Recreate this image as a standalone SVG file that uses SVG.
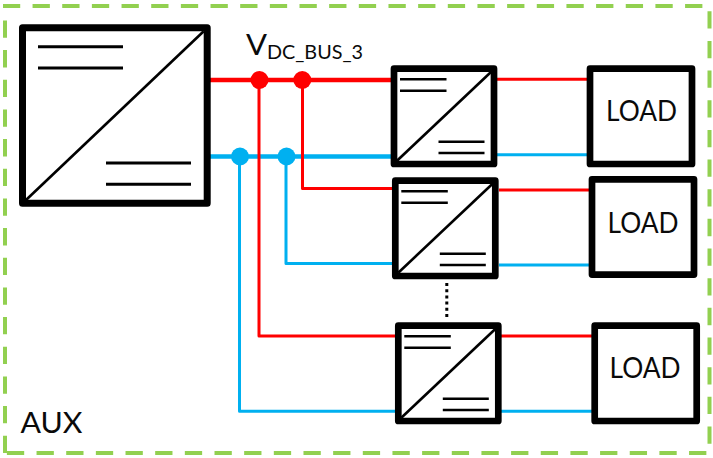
<svg xmlns="http://www.w3.org/2000/svg" width="713" height="458" viewBox="0 0 713 458">
<style>
text{font-family:Lato,"Liberation Sans",sans-serif;fill:#0a0a0a}
.box{fill:#fff;stroke:#000;stroke-width:6.7;stroke-linejoin:round}
.tick{fill:none;stroke:#000;stroke-width:2.6}
.diag{fill:none;stroke:#000;stroke-width:2.6}
.r{fill:none;stroke:#f00;stroke-width:3;stroke-linejoin:round}
.b{fill:none;stroke:#00b0f0;stroke-width:3;stroke-linejoin:round}
.lbl{font-size:29px}
</style>
<path id="aux-boundary" d="M5 453V6H709.500V453H5" fill="none" stroke="#92d050" stroke-width="4" stroke-dasharray="17.300 12.360"/>
<g id="connectors">
<path class="r" style="stroke-width:4.4" d="M210 80H392"/>
<path class="b" style="stroke-width:4.4" d="M210 156.500H392"/>
<path class="b" d="M239.500 156.500V411.300H396"/>
<path class="r" d="M259 80V336H396"/>
<path class="b" d="M286 156.500V263.500H393"/>
<path class="r" d="M302.500 80V188.500H393"/>
<path class="r" d="M497 79.300H588"/>
<path class="b" d="M497 154.700H588"/>
<path class="r" d="M499 190H590"/>
<path class="b" d="M499 265H590"/>
<path class="r" d="M501 336H592"/>
<path class="b" d="M501 411.300H592"/>
<circle cx="259.500" cy="80" r="9" fill="#f00"/>
<circle cx="302.300" cy="80" r="9" fill="#f00"/>
<circle cx="240" cy="156.500" r="9" fill="#00b0f0"/>
<circle cx="286.500" cy="156.500" r="9" fill="#00b0f0"/>
<path d="M446.800 283V320" fill="none" stroke="#000" stroke-width="3" stroke-dasharray="3 3.200"/>
</g>
<g id="main-converter">
<rect class="box" style="stroke-width:7" x="22.500" y="27.800" width="184.700" height="175.500"/>
<path class="diag" d="M26 200L203.700 31.300"/>
<path class="tick" style="stroke-width:3" d="M38 46.700H123M38 68H123M106 163H191M106 184.300H191"/>
</g>
<g id="converter-1">
<rect class="box" x="394" y="68.700" width="100" height="95.300"/>
<path class="diag" d="M397 160.700L491 72"/>
<path class="tick" d="M400 79.300H446.500M400 90.700H446.500M438.500 141.700H484.500M438.500 153H484.500"/>
</g>
<g id="converter-2">
<rect class="box" x="395.300" y="180.700" width="100" height="95.300"/>
<path class="diag" d="M398.300 272.700L492.300 184"/>
<path class="tick" d="M401.300 191.300H447.800M401.300 202.700H447.800M439.800 253.700H485.800M439.800 265H485.800"/>
</g>
<g id="converter-3">
<rect class="box" x="398.300" y="325.700" width="100" height="95.300"/>
<path class="diag" d="M401.300 417.700L495.300 329"/>
<path class="tick" d="M404.300 336.300H450.800M404.300 347.700H450.800M442.800 398.700H488.800M442.800 410H488.800"/>
</g>
<g id="load-1">
<rect class="box" x="590" y="68.700" width="102" height="95.300"/>
<text class="lbl" x="606" y="120.500" textLength="71" lengthAdjust="spacingAndGlyphs">LOAD</text>
</g>
<g id="load-2">
<rect class="box" x="592" y="179.300" width="102" height="95.300"/>
<text class="lbl" x="607.500" y="232.500" textLength="71" lengthAdjust="spacingAndGlyphs">LOAD</text>
</g>
<g id="load-3">
<rect class="box" x="594.700" y="325.700" width="102" height="95.300"/>
<text class="lbl" x="609.500" y="378" textLength="71" lengthAdjust="spacingAndGlyphs">LOAD</text>
</g>
<text id="bus-label" x="246" y="54.500" font-size="29" textLength="21" lengthAdjust="spacingAndGlyphs">V</text>
<text id="bus-label-sub" x="267" y="58.500" font-size="18.500" textLength="96" lengthAdjust="spacingAndGlyphs">DC_BUS_3</text>
<text id="aux-label" x="20.500" y="432.500" font-size="29" textLength="62" lengthAdjust="spacingAndGlyphs">AUX</text>
</svg>
